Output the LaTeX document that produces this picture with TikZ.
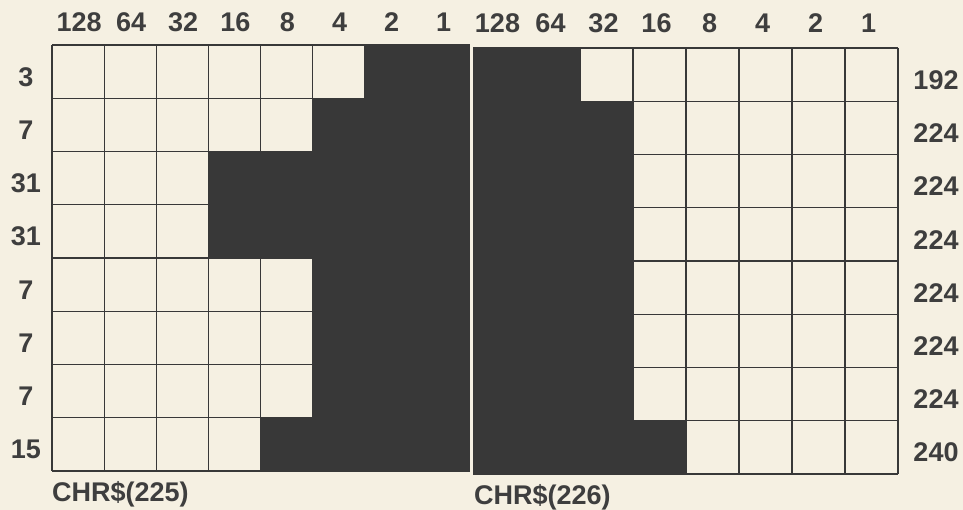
\documentclass[tikz,border=0pt]{standalone}
\usepackage{fontspec}
\newfontfamily\labfont{Liberation Sans}
\definecolor{paper}{RGB}{245,240,226}
\definecolor{ink}{RGB}{56,56,56}
\definecolor{txt}{RGB}{62,62,62}
\tikzset{
  lab/.style={text=txt, font=\labfont\bfseries\fontsize{27}{32}\selectfont, inner sep=0pt},
  gridline/.style={draw=ink, line width=1.2pt},
  darkcell/.style={fill=ink}
}
\begin{document}
\begin{tikzpicture}[x=1pt,y=-1pt]
\useasboundingbox (0,0) rectangle (963,510);
\fill[paper] (0,0) rectangle (963,510);
% left grid
\def\lx{52}\def\ly{45}\def\lw{52.1}\def\lh{53.25}
\foreach \i in {0,...,8}{
  \draw[gridline] ({\lx+\i*\lw},\ly) -- ({\lx+\i*\lw},{\ly+8*\lh});
  \draw[gridline] (\lx,{\ly+\i*\lh}) -- ({\lx+8*\lw},{\ly+\i*\lh});
}
\foreach \r/\n in {0/2,1/3,2/5,3/5,4/3,5/3,6/3,7/4}{
  \fill[darkcell] ({\lx+(8-\n)*\lw-0.7},{\ly+\r*\lh-0.7}) rectangle ({\lx+8*\lw+0.7},{\ly+(\r+1)*\lh+0.7});
}
% right grid
\def\rx{474}\def\ry{48}\def\rw{53}\def\rh{53.25}
\foreach \i in {0,...,8}{
  \draw[gridline] ({\rx+\i*\rw},\ry) -- ({\rx+\i*\rw},{\ry+8*\rh});
  \draw[gridline] (\rx,{\ry+\i*\rh}) -- ({\rx+8*\rw},{\ry+\i*\rh});
}
\foreach \r/\n in {0/2,1/3,2/3,3/3,4/3,5/3,6/3,7/4}{
  \fill[darkcell] ({\rx-0.7},{\ry+\r*\rh-0.7}) rectangle ({\rx+\n*\rw+0.7},{\ry+(\r+1)*\rh+0.7});
}
% column labels
\foreach \v [count=\k from 0] in {128,64,32,16,8,4,2,1}{
  \node[lab] (lc\k) at ({\lx+(\k+0.5)*\lw+1},22) {\v};
  \node[lab] (rc\k) at ({\rx+(\k+0.5)*\rw-3},23) {\v};
}
% row labels
\foreach \v [count=\k from 0] in {3,7,31,31,7,7,7,15}{
  \node[lab] (lr\k) at (26,{\ly+(\k+0.6)*\lh}) {\v};
}
\foreach \v [count=\k from 0] in {192,224,224,224,224,224,224,240}{
  \node[lab] (rr\k) at (936,{\ry+(\k+0.6)*\rh}) {\v};
}
\node[lab, anchor=west] (c225) at (52,494) {CHR\$(225)};
\node[lab, anchor=west] (c226) at (474,497) {CHR\$(226)};
\end{tikzpicture}
\end{document}
